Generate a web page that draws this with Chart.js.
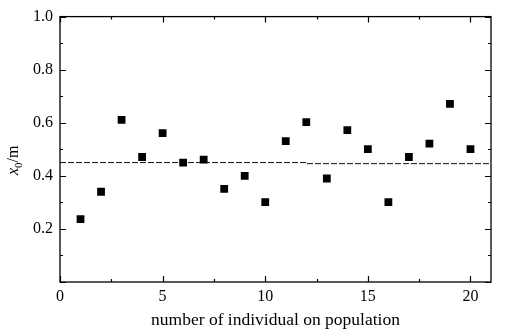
<!DOCTYPE html>
<html>
<head>
<meta charset="utf-8">
<script src="https://cdn.jsdelivr.net/npm/chart.js@4.4.1/dist/chart.umd.min.js"></script>
<style>
  html, body { margin: 0; padding: 0; background: #fff; }
  #wrap { width: 518px; height: 336px; position: relative; }
</style>
</head>
<body>
<div id="wrap"><canvas id="chart" width="518" height="336"></canvas></div>
<script>
// data
const individual = [1, 2, 3, 4, 5, 6, 7, 8, 9, 10, 11, 12, 13, 14, 15, 16, 17, 18, 19, 20];
const x0Values = [0.237, 0.340, 0.611, 0.471, 0.561, 0.450, 0.461, 0.351, 0.400, 0.301,
                  0.531, 0.602, 0.390, 0.572, 0.501, 0.301, 0.471, 0.521, 0.671, 0.501];
// dashed mean line (slight step near x = 12)
const meanX = [0, 12, 12, 21];
const meanY = [0.450, 0.450, 0.446, 0.446];

const xMajorTicks = [0, 5, 10, 15, 20];
const xMinorTicks = [2.5, 7.5, 12.5, 17.5];
const yMajorTicks = [0, 0.2, 0.4, 0.6, 0.8, 1.0];
const yMinorTicks = [0.1, 0.3, 0.5, 0.7, 0.9];
const xTitle = 'number of individual on population';

Chart.defaults.font.family = '"Liberation Serif", "DejaVu Serif", serif';
Chart.defaults.font.size = 16;
Chart.defaults.color = '#000';

// frame + inward ticks on all four sides, y title with subscript
const frameTicks = {
    id: 'frameTicks',
    afterDraw(chart) {
        const { ctx, chartArea: a, scales } = chart;
        const xs = scales.x, ys = scales.y;
        ctx.save();
        ctx.strokeStyle = '#000';
        ctx.lineWidth = 1.3;
        ctx.strokeRect(a.left, a.top, a.right - a.left, a.bottom - a.top);
        ctx.lineWidth = 1.2;
        const tickX = (vals, len) => {
            vals.forEach(v => {
                const px = Math.round(xs.getPixelForValue(v)) + 0.5;
                ctx.beginPath();
                ctx.moveTo(px, a.bottom); ctx.lineTo(px, a.bottom - len);
                ctx.moveTo(px, a.top); ctx.lineTo(px, a.top + len);
                ctx.stroke();
            });
        };
        const tickY = (vals, len) => {
            vals.forEach(v => {
                const py = Math.round(ys.getPixelForValue(v)) + 0.5;
                ctx.beginPath();
                ctx.moveTo(a.left, py); ctx.lineTo(a.left + len, py);
                ctx.moveTo(a.right, py); ctx.lineTo(a.right - len, py);
                ctx.stroke();
            });
        };
        tickX(xMajorTicks, 6);
        tickX(xMinorTicks, 3);
        tickY(yMajorTicks, 6);
        tickY(yMinorTicks, 3);

        // y axis title: x0/m, italic x with subscript 0
        const cy = (a.top + a.bottom) / 2 + 11;
        ctx.translate(18, cy);
        ctx.rotate(-Math.PI / 2);
        ctx.fillStyle = '#000';
        ctx.textBaseline = 'alphabetic';
        const fMain = 'italic 16px "Liberation Serif", serif';
        const fSub = '11px "Liberation Serif", serif';
        const fUp = '16px "Liberation Serif", serif';
        ctx.font = fMain; const w1 = ctx.measureText('x').width;
        ctx.font = fSub; const w2 = ctx.measureText('0').width;
        ctx.font = fUp; const w3 = ctx.measureText('/m').width;
        let u = -(w1 + w2 + w3) / 2;
        ctx.font = fMain; ctx.fillText('x', u, 0); u += w1;
        ctx.font = fSub; ctx.fillText('0', u, 4); u += w2;
        ctx.font = fUp; ctx.fillText('/m', u, 0);
        ctx.restore();
    }
};

const ctx = document.getElementById('chart').getContext('2d');
new Chart(ctx, {
    type: 'scatter',
    data: {
        datasets: [
            {
                label: 'x0',
                data: individual.map((n, i) => ({ x: n, y: x0Values[i] })),
                pointStyle: 'rect',
                pointRadius: 5.5,
                pointBackgroundColor: '#000',
                pointBorderWidth: 0,
                showLine: false,
                order: 1
            },
            {
                label: 'mean',
                type: 'line',
                data: meanX.map((x, i) => ({ x: x, y: meanY[i] })),
                borderColor: '#111',
                borderWidth: 1,
                borderDash: [6, 2],
                pointRadius: 0,
                fill: false,
                tension: 0,
                order: 2
            }
        ]
    },
    options: {
        responsive: false,
        animation: false,
        events: [],
        layout: { padding: { left: 0, top: 14, right: 27, bottom: 0 } },
        plugins: { legend: { display: false }, tooltip: { enabled: false } },
        scales: {
            x: {
                type: 'linear',
                min: 0,
                max: 21,
                afterFit: s => { s.height = 54; },
                afterBuildTicks: s => { s.ticks = xMajorTicks.map(v => ({ value: v })); },
                grid: { display: false, drawTicks: false },
                border: { display: false },
                ticks: { padding: 5, maxRotation: 0, callback: v => String(v) },
                title: { display: true, text: xTitle, font: { size: 17.5 }, padding: { top: 0, bottom: 5 } }
            },
            y: {
                type: 'linear',
                min: 0,
                max: 1,
                afterFit: s => { s.width = 60; },
                afterBuildTicks: s => { s.ticks = yMajorTicks.map(v => ({ value: v })); },
                grid: { display: false, drawTicks: false },
                border: { display: false },
                ticks: { padding: 7, callback: v => (v === 0 ? '' : v.toFixed(1)) }
            }
        }
    },
    plugins: [frameTicks]
});
</script>
</body>
</html>
